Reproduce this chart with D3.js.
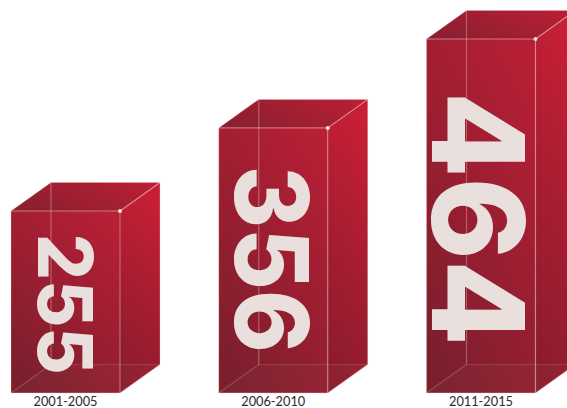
<!DOCTYPE html>
<html>
<head>
<meta charset="utf-8">
<script src="https://cdn.jsdelivr.net/npm/d3@7"></script>
<style>
  html, body { margin: 0; padding: 0; background: #fff; overflow: hidden; }
  svg { display: block; }
</style>
</head>
<body>
<div id="chart"></div>
<script>
const periods = ["2001-2005", "2006-2010", "2011-2015"];
const counts = [255, 356, 464];
// Rendered size of the rotated numeral on each box
const numeralLengths = [141, 187, 254];
const numeralHeights = [55, 74, 93];
const numeralTops = [233.7, 165.7, 91.8];
const numeralInsets = [54, 53, 52];

const width = 567, height = 408;
const baseY = 393;
const boxWidth = 109;
const depthX = 40, depthY = -28.5;

const x = d3.scalePoint().domain(periods).range([65.5, 481]);
const y = d3.scaleLinear().domain([255, 464]).range([211, 39]);

const svg = d3.select("#chart").append("svg")
  .attr("width", width).attr("height", height);

const defs = svg.append("defs");
function gradient(id, x1, y1, x2, y2, stops) {
  const g = defs.append("linearGradient").attr("id", id)
    .attr("x1", x1).attr("y1", y1).attr("x2", x2).attr("y2", y2);
  stops.forEach(([o, c]) => g.append("stop").attr("offset", o).attr("stop-color", c));
}
gradient("front", 0.85, 0, 0.25, 1, [[0, "#b81f36"], [0.5, "#9b1e31"], [1, "#7b1f2d"]]);
gradient("side", 0.6, 0, 0.4, 1, [[0, "#c91f35"], [0.55, "#a41d31"], [1, "#8a1c2d"]]);
gradient("top", 1, 0.2, 0, 0.6, [[0, "#b91f34"], [1, "#8c1f30"]]);

const poly = pts => pts.map(p => p.join(",")).join(" ");
const edge = "#f3d4d2";

const bars = svg.selectAll("g.box").data(periods).join("g").attr("class", "box");

bars.each(function (period, i) {
  const g = d3.select(this);
  const l = x(period) - boxWidth / 2, r = l + boxWidth;
  const t = y(counts[i]), b = baseY;
  const A = [l, t], B = [r, t], C = [r, b], D = [l, b];
  const shift = p => [p[0] + depthX, p[1] + depthY];
  const A2 = shift(A), B2 = shift(B), C2 = shift(C), D2 = shift(D);

  g.append("polygon").attr("points", poly([A, B, C, D])).attr("fill", "url(#front)");
  g.append("polygon").attr("points", poly([B, B2, C2, C])).attr("fill", "url(#side)");
  g.append("polygon").attr("points", poly([A, A2, B2, B])).attr("fill", "url(#top)");
  g.append("polygon").attr("points", poly([D, D2, C2, C])).attr("fill", "#fff").attr("opacity", 0.025);

  // Numeral reads top to bottom, centred under the box's front face
  const cx = l + numeralInsets[i];
  const h = numeralHeights[i];
  g.append("text")
    .attr("transform", `translate(${cx - h / 2},${numeralTops[i]}) rotate(90)`)
    .attr("font-family", "Inter, sans-serif")
    .attr("font-weight", 800)
    .attr("font-size", h / 0.727)
    .attr("textLength", numeralLengths[i])
    .attr("lengthAdjust", "spacingAndGlyphs")
    .attr("fill", "#e9dfdd")
    .text(counts[i]);

  // Wireframe edges, faint on the hidden side of the box
  const lines = [
    [A, B, 0.5], [B, C, 0.4], [A2, D2, 0.35], [D2, C2, 0.15], [D, D2, 0.22],
    [A, D, 0.22], [D, C, 0.4], [A, A2, 0.15], [A2, B2, 0.2], [B, B2, 0.5],
    [B2, C2, 0.25], [C, C2, 0.3]
  ];
  lines.forEach(([p, q, o]) => g.append("line")
    .attr("x1", p[0]).attr("y1", p[1]).attr("x2", q[0]).attr("y2", q[1])
    .attr("stroke", edge).attr("stroke-width", 1.2).attr("stroke-opacity", o));

  g.append("circle").attr("cx", B[0]).attr("cy", B[1]).attr("r", 2).attr("fill", "#f0ddd2");

  g.append("text")
    .attr("x", x(period)).attr("y", 405.5)
    .attr("text-anchor", "middle")
    .attr("font-family", "Lato, sans-serif")
    .attr("font-size", 12.5)
    .attr("textLength", 64)
    .attr("lengthAdjust", "spacingAndGlyphs")
    .attr("fill", "#2a2a2a")
    .text(period);
});
</script>
</body>
</html>
